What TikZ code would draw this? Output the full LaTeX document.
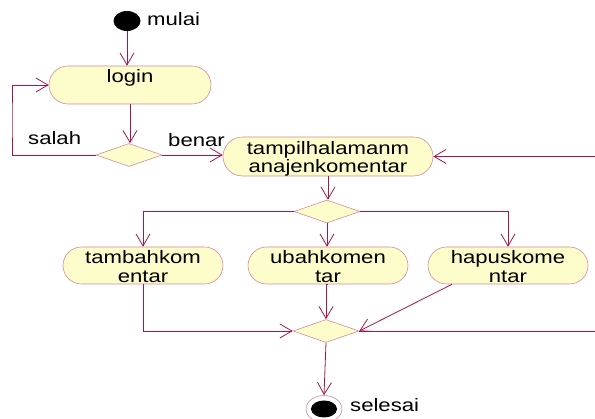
\documentclass[tikz,border=0pt]{standalone}
\usepackage{fontspec}
\setmainfont{Liberation Sans}[FakeStretch=1.23]
\usetikzlibrary{shapes.misc,shapes.geometric,arrows.meta}
\definecolor{flowline}{HTML}{A3174A}
\definecolor{actborder}{HTML}{D58A9C}
\definecolor{actfill}{HTML}{FDFCCB}

% two centred lines whose baseline is the last line
\newcommand{\twolines}[2]{\begin{tabular}[b]{@{}c@{}}#1\\#2\end{tabular}}

\begin{document}
\begin{tikzpicture}[x=1pt,y=-1pt,
  font=\fontsize{18}{18.5}\selectfont,
  act/.style={rounded rectangle, draw=actborder, fill=actfill, line width=0.6pt, inner sep=0pt},
  choice/.style={diamond, draw=actborder, fill=actfill, line width=0.6pt, inner sep=0pt,
                 minimum width=66pt, minimum height=23pt},
  flow/.style={draw=flowline, line width=0.8pt, -{Straight Barb[length=12pt,width=14pt]}},
  link/.style={draw=flowline, line width=0.8pt},
  lbl/.style={inner sep=0pt, anchor=base west}]

\useasboundingbox (0,0) rectangle (595,419);

% start and end states
\node[ellipse, fill=black, minimum width=27pt, minimum height=20pt, inner sep=0pt] (start) at (127,21) {};
\node[lbl] (mulai) at (147,26) {mulai};

\node[ellipse, draw=actborder, fill=white, line width=0.6pt, minimum width=36pt, minimum height=27pt, inner sep=0pt] (end) at (324,409) {};
\node[ellipse, fill=black, minimum width=26pt, minimum height=17pt, inner sep=0pt] (endcore) at (end.center) {};
\node[lbl] (selesai) at (350,412) {selesai};

% activities
\node[act, minimum width=162pt, minimum height=38pt, text height=13pt, text depth=17pt] (login) at (130,85) {login};
\node[act, minimum width=210pt, minimum height=39pt, text height=35pt, text depth=2pt] (tampil) at (328,156.5)
  {\twolines{tampilhalamanm}{anajenkomentar}};
\node[act, minimum width=160pt, minimum height=37pt, text height=35pt, text depth=1pt] (tambah) at (143,265.5)
  {\twolines{tambahkom}{entar}};
\node[act, minimum width=160pt, minimum height=37pt, text height=35pt, text depth=1pt] (ubah) at (328,265.5)
  {\twolines{ubahkomen}{tar}};
\node[act, minimum width=160pt, minimum height=37pt, text height=35pt, text depth=1pt] (hapus) at (508,265.5)
  {\twolines{hapuskome}{ntar}};

% decisions
\node[choice] (cek) at (129,155) {};
\node[choice] (pilih) at (327,211.5) {};
\node[choice] (gabung) at (326,331) {};

% guard labels
\node[lbl] (salah) at (28,145) {salah};
\node[lbl] (benar) at (168,146.5) {benar};

% loose ends at the right border
\coordinate (kembali) at (595,156.5);
\coordinate (keluar) at (595,331);
\coordinate (ulang) at (12,120);

% flows
\draw[flow] (start.south) -- (start.south |- login.north);
\draw[flow] (login.south) -- (login.south |- cek.north);
\draw[flow] (cek.west) -| (ulang) |- (login.west);
\draw[flow] (cek.east) -- (cek.east -| tampil.west);
\draw[flow] (kembali) -- (tampil.east);
\draw[flow] (tampil.south) -- (tampil.south |- pilih.north);
\draw[flow] (pilih.west) -| (tambah.north);
\draw[flow] (pilih.south) -- (pilih.south |- ubah.north);
\draw[flow] (pilih.east) -| (hapus.north);
\draw[flow] (tambah.south) |- (gabung.west);
\draw[flow] (ubah.south) -- (ubah.south -| gabung.north) -- (gabung.north);
\draw[flow] ([xshift=-56pt]hapus.south) -- (gabung.east);
\draw[link] (gabung.east) -- (keluar);
\draw[flow] (gabung.south) -- (end.north);
\end{tikzpicture}
\end{document}
